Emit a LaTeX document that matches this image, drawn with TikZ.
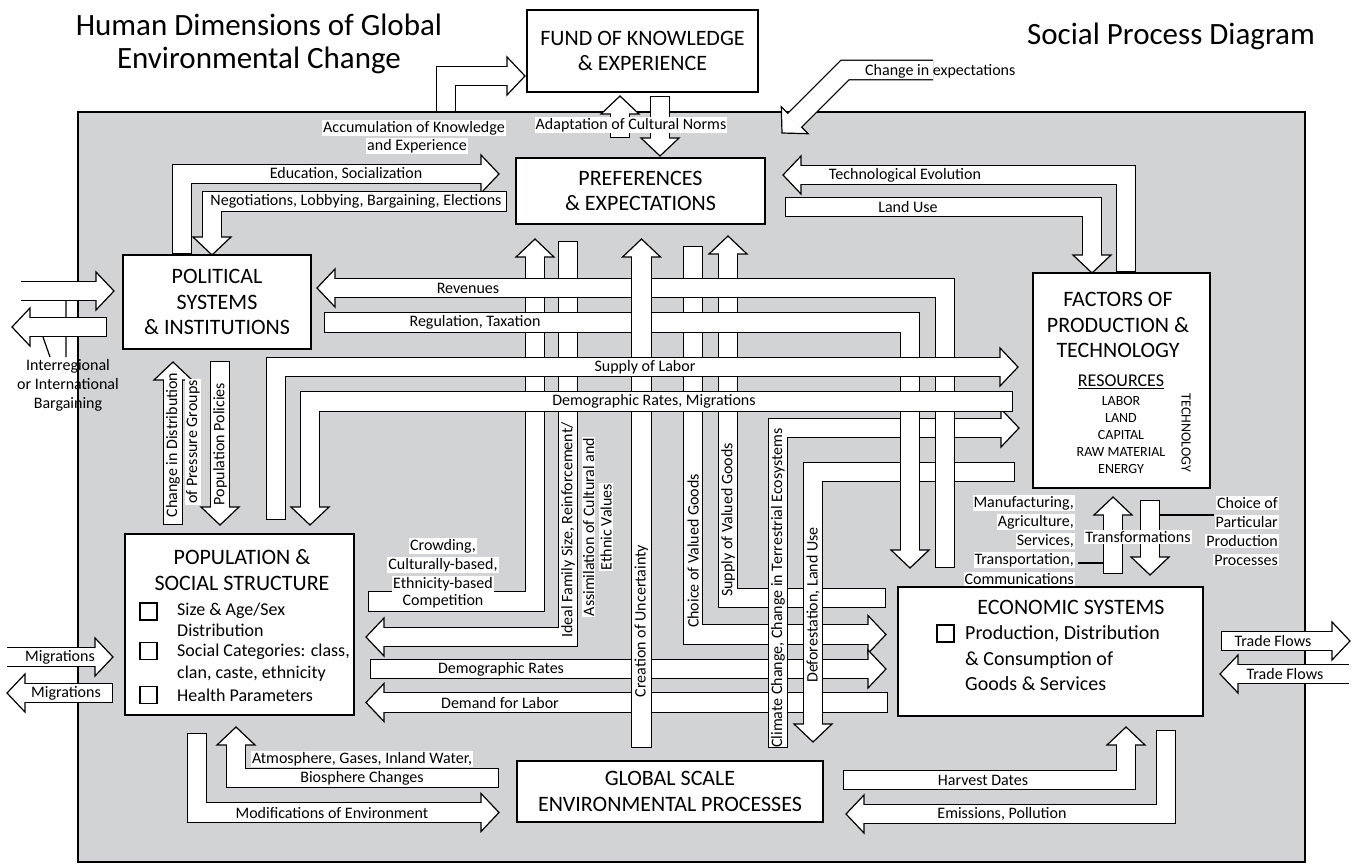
\documentclass[tikz,border=0pt]{standalone}
\usepackage{fontspec}
\setmainfont{Carlito}
\usetikzlibrary{positioning}

\definecolor{panel}{RGB}{209,211,212}
\newcommand\lblfont{\fontsize{16}{19}\selectfont}
\newcommand\boxfont{\fontsize{22}{25.5}\selectfont}
\newcommand\itemfont{\fontsize{18}{21.5}\selectfont}
\newcommand\ecofont{\fontsize{20}{25.5}\selectfont}
\newcommand\resfont{\fontsize{14}{17}\selectfont}
\newcommand\titlefont{\fontsize{31}{33}\selectfont}

\tikzset{box/.style={draw,line width=1.8pt,fill=white,inner sep=0pt,align=center,font=\boxfont},
         bandout/.style={line width=20.7pt,line join=miter,line cap=butt},
         bandin/.style={line width=18.3pt,white,line join=miter,line cap=butt},
         hd/.style={fill=white,draw=black,line width=1.2pt,line join=miter},
         lbl/.style={font=\lblfont,inner sep=1pt},
         tag/.style={lbl,fill=white},
         chk/.style={draw,line width=1.8pt,minimum size=17pt,inner sep=0pt}
}

% arrow heads: tip x, tip y
\newcommand\headR[2]{\filldraw[hd] (#1,#2) -- ++(-18,19) -- ++(0,-38) -- cycle;}
\newcommand\headL[2]{\filldraw[hd] (#1,#2) -- ++(18,19) -- ++(0,-38) -- cycle;}
\newcommand\headU[2]{\filldraw[hd] (#1,#2) -- ++(-19,18) -- ++(38,0) -- cycle;}
\newcommand\headD[2]{\filldraw[hd] (#1,#2) -- ++(-19,-18) -- ++(38,0) -- cycle;}
% fat arrows: closed start / open start
\newcommand\farrow[2]{\draw[bandout] #1; #2 \draw[bandin,shorten <=1.2pt,shorten >=-0.9pt] #1;}
\newcommand\oarrow[2]{\draw[bandout] #1; #2 \draw[bandin,shorten >=-0.9pt] #1;}

\begin{document}
\begin{tikzpicture}[x=1pt,y=-1pt]
\useasboundingbox (0,0) rectangle (1363,865);
\filldraw[fill=panel,draw=black,line width=1.8pt] (78,112) rectangle (1305,862);

\node[font=\titlefont,align=center] (ttl) at (259,44) {Human Dimensions of Global\\Environmental Change};
\node[font=\titlefont] (sub) at (1171,36) {Social Process Diagram};

\node[box,minimum width=231pt,minimum height=82pt] (fund) at (642.5,51) {FUND OF KNOWLEDGE\\\& EXPERIENCE};
\node[box,minimum width=249pt,minimum height=66pt] (pref) at (640.5,191) {PREFERENCES\\\& EXPECTATIONS};
\node[box,minimum width=188pt,minimum height=94pt] (pol) at (217,302) {POLITICAL\\SYSTEMS\\\& INSTITUTIONS};
\node[box,minimum width=177pt,minimum height=215pt] (fac) at (1121.5,380.5) {};
\node[box,minimum width=229pt,minimum height=181pt] (pop) at (239.5,624.5) {};
\node[box,minimum width=305pt,minimum height=129pt] (eco) at (1050.5,651.5) {};
\node[box,minimum width=306pt,minimum height=61pt] (glob) at (670,791.5) {GLOBAL SCALE\\ENVIRONMENTAL PROCESSES};

% box contents
\node[font=\boxfont,align=center] (factl) at (1118,325) {FACTORS OF\\PRODUCTION \&\\TECHNOLOGY};
\node[font=\fontsize{18}{21}\selectfont] (res) at (1121,382) {\underline{RESOURCES}};
\node[font=\resfont,align=center,below=0pt of res] (reslist) {LABOR\\LAND\\CAPITAL\\RAW MATERIAL\\ENERGY};
\node[font=\resfont,rotate=-90] (tech) at (1186,433) {TECHNOLOGY};
\node[font=\boxfont,align=center] (popt) at (242,570) {POPULATION \&\\SOCIAL STRUCTURE};
\node[chk] (c1) at (148.5,611.5) {};
\node[chk] (c2) at (148.5,651) {};
\node[chk] (c3) at (148.5,695) {};
\node[font=\itemfont,align=left,anchor=west,inner sep=0pt] (i1) at (177,620) {Size \& Age/Sex\\Distribution};
\node[font=\itemfont,align=left,anchor=west,inner sep=0pt] (i2) at (177,662.5) {Social Categories: class,\\clan, caste, ethnicity};
\node[font=\itemfont,anchor=west,inner sep=0pt] (i3) at (177,695) {Health Parameters};
\node[font=\boxfont] (ecot) at (1071,607) {ECONOMIC SYSTEMS};
\node[chk] (c4) at (945.5,633.5) {};
\node[font=\ecofont,align=left,anchor=west,inner sep=0pt] (i4) at (965,658.5) {Production, Distribution\\\& Consumption of\\Goods \& Services};

% top
\farrow{(446,112) -- (446,76) -- (507,76)}{\headR{525}{76}}
\farrow{(620,138) -- (620,114)}{\headU{620}{96}}
\farrow{(660,96) -- (660,138)}{\headD{660}{156}}
\oarrow{(933,70) -- (845,70) -- (794.7,120.3)}{\filldraw[hd] (782,133) -- (781.3,106.9) -- (808.1,133.7) -- cycle;}
\farrow{(182,0 |- pol.north) -- (182,174) -- (481,174)}{\headR{499}{174}}
\farrow{(507,201.5) -- (212,201.5) -- (212,237)}{\headD{212}{255}}
\farrow{(1126,0 |- fac.north) -- (1126,175) -- (801,175)}{\headL{783}{175}}
\farrow{(785,207) -- (1092,207) -- (1092,255)}{\headD{1092}{273}}

% left side
\draw[line width=1.2pt] (66,300) -- (66,357) (43,337) -- (50,357);
\oarrow{(21,291) -- (96,291)}{\headR{114}{291}}
\farrow{(107,327) -- (30,327)}{\headL{12}{327}}
\farrow{(173,525) -- (173,380)}{\headU{173}{362}}
\farrow{(220,361) -- (220,507)}{\headD{220}{525}}

% centre
\farrow{(368,601.5) -- (535,601.5) -- (535,257)}{\headU{535}{239}}
\farrow{(568,241) -- (568,637) -- (384,637)}{\headL{366}{637}}
\farrow{(693,246) -- (693,634.5) -- (868,634.5)}{\headR{886}{634.5}}
\farrow{(886,598) -- (728,598) -- (728,254)}{\headU{728}{236}}
\farrow{(370,669) -- (868,669)}{\headR{886}{669}}
\farrow{(888,702.5) -- (384,702.5)}{\headL{366}{702.5}}
\farrow{(778,748) -- (778,428) -- (1001,428)}{\headR{1019}{428}}
\farrow{(1015,472) -- (813,472) -- (813,724)}{\headD{813}{742}}
\farrow{(945,568) -- (945,288) -- (335,288)}{\headL{317}{288}}
\farrow{(324,322.5) -- (910,322.5) -- (910,550)}{\headD{910}{568}}
\farrow{(641.5,748) -- (641.5,257)}{\headU{641.5}{239}}
\farrow{(276,520) -- (276,367) -- (1000,367)}{\headR{1018}{367}}
\farrow{(1013,401.5) -- (310,401.5) -- (310,507)}{\headD{310}{525}}

% bottom and right
\farrow{(499,778) -- (236,778) -- (236,745)}{\headU{236}{727}}
\farrow{(197,733) -- (197,812.5) -- (481,812.5)}{\headR{499}{812.5}}
\oarrow{(7,657) -- (95,657)}{\headR{113}{657}}
\farrow{(113,693) -- (25,693)}{\headL{7}{693}}
\farrow{(843,780) -- (1126,780) -- (1126,745)}{\headU{1126}{727}}
\farrow{(1166,730) -- (1166,814) -- (864,814)}{\headL{846}{814}}
\farrow{(1221,641) -- (1332,641)}{\headR{1350}{641}}
\oarrow{(1349,674) -- (1238,674)}{\headL{1220}{674}}
\farrow{(1113,574) -- (1113,515)}{\headU{1113}{497}}
\farrow{(1150,500) -- (1150,557)}{\headD{1150}{575}}
\draw[line width=1.2pt] (1078,563) -- (1103,563) (1160,515) -- (1214,515);

% labels
\node[tag] (acc1) at (414,128) {Accumulation of Knowledge};
\node[tag] (acc2) at (417,146) {and Experience};
\node[tag] (adapt) at (631,125) {Adaptation of Cultural Norms};
\node[lbl,anchor=west] (chexp) at (864,71) {Change in expectations};
\node[lbl] (edu) at (346,174) {Education, Socialization};
\node[lbl] (nego) at (356,201.5) {Negotiations, Lobbying, Bargaining, Elections};
\node[lbl] (tevo) at (905,175) {Technological Evolution};
\node[lbl] (luse) at (908,207) {Land Use};
\node[lbl,align=center] (inter) at (68,385) {Interregional\\or International\\Bargaining};
\node[lbl,rotate=90] (chd) at (173,445) {Change in Distribution};
\node[tag,rotate=90] (chd2) at (193,442) {of Pressure Groups};
\node[lbl,rotate=90] (ppol) at (220,444) {Population Policies};
\node[lbl] (rev) at (468,288) {Revenues};
\node[lbl] (reg) at (475,322.5) {Regulation, Taxation};
\node[lbl] (sol) at (645,367) {Supply of Labor};
\node[lbl] (drm) at (654,401.5) {Demographic Rates, Migrations};
\node[tag] (crow1) at (443,546) {Crowding,};
\node[tag] (crow2) at (443,565) {Culturally-based,};
\node[tag] (crow3) at (443,584) {Ethnicity-based};
\node[lbl] (comp) at (443,601.5) {Competition};
\node[lbl,rotate=90] (ideal) at (568,530) {Ideal Family Size, Reinforcement/};
\node[tag,rotate=90] (ideal2) at (588.5,527) {Assimilation of Cultural and};
\node[tag,rotate=90] (ideal3) at (606,527) {Ethnic Values};
\node[lbl,rotate=90] (unc) at (641.5,621) {Creation of Uncertainty};
\node[lbl,rotate=90] (cvg) at (693,551) {Choice of Valued Goods};
\node[lbl,rotate=90] (svg) at (728,520) {Supply of Valued Goods};
\node[lbl,rotate=90] (clim) at (778,588) {Climate Change, Change in Terrestrial Ecosystems};
\node[lbl,rotate=90] (defo) at (813,605) {Deforestation, Land Use};
\node[lbl] (demr) at (501,669) {Demographic Rates};
\node[lbl] (deml) at (500,702.5) {Demand for Labor};
\node[tag] (atm1) at (362,759) {Atmosphere, Gases, Inland Water,};
\node[lbl] (atm2) at (362,778) {Biosphere Changes};
\node[lbl] (modf) at (332,812.5) {Modifications of Environment};
\node[lbl] (mig1) at (60,657) {Migrations};
\node[lbl] (mig2) at (66,693) {Migrations};
\node[lbl] (harv) at (983,780) {Harvest Dates};
\node[lbl] (emis) at (1002,814) {Emissions, Pollution};
\node[lbl] (tf1) at (1273,641) {Trade Flows};
\node[lbl] (tf2) at (1285,674) {Trade Flows};
\node[tag] (trans) at (1138,537) {Transformations};
\node[tag,anchor=east] (man1) at (1075,503) {Manufacturing,};
\node[tag,anchor=east] (man2) at (1075,522) {Agriculture,};
\node[tag,anchor=east] (man3) at (1075,541) {Services,};
\node[tag,anchor=east] (man4) at (1075,560) {Transportation,};
\node[tag,anchor=east] (man5) at (1075,579) {Communications};
\node[tag,anchor=east] (cho1) at (1279,503) {Choice of};
\node[tag,anchor=east] (cho2) at (1279,522) {Particular};
\node[tag,anchor=east] (cho3) at (1279,541) {Production};
\node[tag,anchor=east] (cho4) at (1279,560) {Processes};
\end{tikzpicture}
\end{document}
